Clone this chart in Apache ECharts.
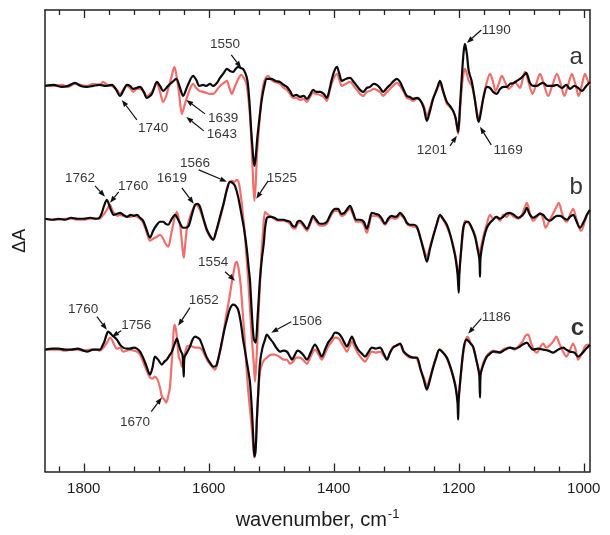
<!DOCTYPE html>
<html><head><meta charset="utf-8">
<script src="https://cdn.jsdelivr.net/npm/echarts@6/dist/echarts.min.js"></script>
<style>html,body{margin:0;padding:0;background:#fff}#c{width:610px;height:535px}</style>
</head><body><div id="c"></div>
<script>
// wavenumber (cm-1), ΔA (arbitrary units, relative to each trace's baseline)
const aBlack = [[1862,0],[1848,1],[1835,-1],[1825,0],[1814,3],[1805,0],[1795,-1],[1785,0],[1775,1],[1765,0],[1755,1],[1748,-4],[1742,-10],[1736,-4],[1731,1],[1726,0],[1721,-3],[1710,-1],[1704,-6],[1699,-12],[1691,-8],[1683,4],[1678,0],[1673,-5],[1665,0],[1658,4],[1652,7],[1646,-2],[1641,-10],[1634,0],[1625,10],[1620,6],[1615,0],[1609,1],[1604,0],[1598,2],[1593,0],[1587,3],[1582,8],[1576,13],[1571,17],[1566,15],[1561,14],[1557,17],[1553,19],[1549,18],[1545,17],[1541,12],[1538,5],[1535,-15],[1532,-45],[1529,-70],[1527,-80],[1525,-72],[1522,-50],[1518,-28],[1515,-13],[1511,0],[1507,7],[1500,7],[1493,5],[1486,4],[1480,1],[1475,-1],[1470,-5],[1465,-10],[1460,-9],[1454,-11],[1448,-10],[1443,-13],[1438,-9],[1433,-4],[1428,-6],[1422,-6],[1416,-8],[1411,-12],[1407,-4],[1403,7],[1399,15],[1395,19],[1391,12],[1387,5],[1381,7],[1374,8],[1368,4],[1363,0],[1358,-4],[1353,-6],[1347,-2],[1342,-1],[1336,2],[1331,1],[1326,-2],[1321,-6],[1315,-2],[1310,1],[1304,5],[1299,7],[1294,4],[1288,-4],[1283,-10],[1278,-11],[1273,-13],[1267,-12],[1262,-14],[1256,-22],[1251,-35],[1246,-25],[1241,-13],[1235,-3],[1230,5],[1225,-5],[1219,-16],[1214,-20],[1209,-25],[1205,-32],[1201,-46],[1198,-20],[1195,10],[1192,35],[1190,42],[1187,32],[1184,15],[1179,4],[1174,-15],[1170,-32],[1168,-36],[1165,-28],[1160,-10],[1155,-1],[1150,-2],[1145,-6],[1139,-8],[1134,-3],[1128,-1],[1123,-1],[1118,2],[1112,3],[1107,5],[1100,8],[1094,12],[1092,13],[1086,3],[1081,0],[1075,0],[1070,2],[1065,3],[1058,0],[1050,0],[1043,1],[1035,-2],[1028,1],[1022,-3],[1015,0],[1009,-2],[1003,-5],[996,0],[990,4]];
const aRed = [[1862,0],[1848,0],[1835,1],[1825,-1],[1814,2],[1805,1],[1795,0],[1785,2],[1775,1],[1769,4],[1762,1],[1755,0],[1748,-3],[1742,-8],[1736,-3],[1731,0],[1726,-2],[1721,-6],[1715,-3],[1710,-3],[1704,-6],[1699,-10],[1691,-6],[1683,2],[1678,-6],[1673,-16],[1668,-10],[1665,-3],[1660,8],[1655,19],[1651,8],[1647,-10],[1643,-28],[1639,-20],[1633,-8],[1625,2],[1620,-2],[1615,-5],[1609,-6],[1604,-7],[1598,-8],[1593,-8],[1587,-4],[1582,0],[1576,3],[1571,5],[1567,-2],[1563,-8],[1559,-2],[1555,4],[1551,9],[1548,11],[1544,8],[1540,3],[1537,-10],[1534,-30],[1531,-65],[1529,-95],[1527,-115],[1525,-100],[1523,-70],[1520,-45],[1517,-20],[1513,0],[1509,8],[1505,10],[1500,6],[1495,4],[1490,3],[1486,2],[1480,-2],[1475,-4],[1470,-8],[1465,-12],[1460,-12],[1454,-14],[1448,-13],[1443,-16],[1438,-11],[1433,-7],[1428,-8],[1422,-9],[1416,-11],[1411,-15],[1407,-6],[1403,3],[1399,9],[1395,12],[1391,6],[1387,0],[1381,2],[1374,4],[1368,0],[1363,-4],[1358,-8],[1353,-10],[1347,-6],[1342,-5],[1336,-3],[1331,-4],[1326,-6],[1321,-10],[1315,-6],[1310,-3],[1304,1],[1299,3],[1294,0],[1288,-6],[1283,-12],[1278,-13],[1273,-15],[1267,-13],[1262,-14],[1256,-20],[1251,-30],[1246,-22],[1241,-12],[1235,-4],[1230,2],[1225,-6],[1219,-18],[1214,-21],[1209,-25],[1205,-33],[1201,-48],[1198,-25],[1195,0],[1192,14],[1190,17],[1187,12],[1184,5],[1179,0],[1174,-14],[1170,-30],[1168,-33],[1165,-25],[1160,-10],[1155,4],[1150,12],[1146,6],[1141,-5],[1136,2],[1131,10],[1126,4],[1120,-3],[1115,0],[1110,4],[1106,1],[1102,-2],[1098,6],[1094,14],[1088,3],[1082,-8],[1076,2],[1070,12],[1064,2],[1057,-10],[1050,1],[1043,12],[1037,2],[1031,-10],[1025,1],[1019,12],[1013,1],[1008,-10],[1003,1],[998,12],[994,6],[990,0]];
const bBlack = [[1862,0],[1850,-1],[1840,0],[1830,-1],[1820,1],[1810,0],[1800,0],[1790,1],[1780,0],[1775,1],[1771,6],[1767,14],[1763,19],[1760,15],[1756,8],[1752,4],[1747,5],[1742,6],[1737,4],[1731,2],[1725,4],[1720,3],[1715,4],[1710,1],[1705,-2],[1700,-10],[1694,-19],[1689,-12],[1683,-6],[1678,-3],[1673,-3],[1669,-5],[1665,-6],[1660,-1],[1654,4],[1648,-2],[1641,-9],[1637,-9],[1632,-7],[1627,4],[1622,14],[1618,15],[1614,12],[1608,-1],[1603,-11],[1598,-17],[1593,-21],[1588,-12],[1582,2],[1576,16],[1571,29],[1566,37],[1562,36],[1558,33],[1553,22],[1547,2],[1543,-12],[1539,-31],[1536,-50],[1534,-62],[1531,-95],[1528,-120],[1525,-124],[1522,-100],[1520,-80],[1518,-60],[1515,-40],[1512,-25],[1510,-10],[1507,1],[1503,2],[1500,2],[1495,1],[1489,-1],[1480,-1],[1475,-2],[1470,-3],[1466,-7],[1462,-8],[1458,-3],[1454,-2],[1448,-6],[1443,-10],[1438,-4],[1433,3],[1428,-1],[1422,-5],[1417,-5],[1411,-3],[1407,2],[1403,7],[1398,10],[1393,10],[1388,5],[1383,6],[1378,10],[1374,13],[1369,6],[1364,-1],[1358,-1],[1352,-3],[1347,-10],[1343,-2],[1339,6],[1334,5],[1328,4],[1323,0],[1318,-5],[1313,0],[1308,3],[1302,2],[1298,3],[1294,6],[1287,1],[1283,-4],[1278,-6],[1272,-6],[1267,-8],[1261,-20],[1256,-32],[1251,-43],[1246,-30],[1241,-18],[1235,-5],[1230,4],[1225,0],[1219,-6],[1214,-15],[1209,-28],[1205,-40],[1202,-55],[1200,-74],[1199,-55],[1196,-30],[1193,-10],[1190,-4],[1185,-3],[1180,-8],[1174,-18],[1170,-30],[1167,-41],[1166,-58],[1165,-38],[1160,-20],[1155,-9],[1150,-4],[1145,-1],[1140,2],[1134,0],[1129,2],[1124,5],[1118,6],[1112,4],[1105,1],[1099,3],[1095,6],[1091,11],[1087,5],[1081,1],[1075,3],[1070,5],[1065,4],[1060,0],[1054,-2],[1048,1],[1043,3],[1038,3],[1033,1],[1027,-1],[1022,2],[1017,4],[1012,-2],[1006,-9],[1000,-3],[995,4],[990,9]];
const bRed = [[1862,0],[1850,-1],[1840,-1],[1830,0],[1820,0],[1810,-1],[1800,-1],[1790,0],[1780,0],[1775,0],[1770,3],[1766,6],[1762,10],[1758,14],[1754,8],[1750,5],[1746,3],[1742,4],[1737,3],[1731,2],[1725,2],[1720,3],[1715,2],[1710,0],[1705,-4],[1700,-12],[1694,-22],[1689,-20],[1683,-18],[1678,-16],[1673,-20],[1669,-25],[1665,-28],[1660,-15],[1655,0],[1651,7],[1648,0],[1645,-10],[1642,-30],[1640,-39],[1638,-28],[1635,-10],[1630,2],[1625,10],[1620,14],[1615,10],[1610,2],[1606,-6],[1603,-12],[1598,-18],[1593,-21],[1588,-13],[1582,0],[1576,15],[1571,30],[1567,37],[1563,38],[1559,37],[1555,39],[1552,36],[1549,25],[1546,8],[1543,-10],[1540,-35],[1537,-60],[1534,-90],[1531,-120],[1528,-145],[1526,-163],[1524,-145],[1522,-120],[1520,-90],[1518,-65],[1516,-40],[1513,-12],[1510,7],[1507,5],[1503,3],[1500,2],[1495,0],[1489,-2],[1480,-2],[1475,-3],[1470,-5],[1466,-9],[1462,-10],[1458,-5],[1454,-4],[1448,-8],[1443,-12],[1438,-6],[1433,1],[1428,-3],[1422,-7],[1417,-7],[1411,-5],[1407,0],[1403,5],[1398,8],[1393,8],[1388,3],[1383,4],[1378,8],[1374,10],[1369,4],[1364,-3],[1358,-3],[1352,-6],[1347,-14],[1343,-5],[1339,3],[1334,3],[1328,2],[1323,-2],[1318,-6],[1313,-2],[1308,1],[1302,0],[1298,1],[1294,4],[1287,0],[1283,-5],[1278,-7],[1272,-8],[1267,-9],[1261,-20],[1256,-30],[1251,-38],[1246,-28],[1241,-17],[1235,-5],[1230,3],[1225,-1],[1219,-8],[1214,-16],[1209,-26],[1205,-38],[1202,-52],[1200,-58],[1198,-45],[1195,-25],[1192,-8],[1190,-2],[1185,-4],[1180,-8],[1174,-16],[1170,-28],[1167,-36],[1165,-30],[1160,-16],[1155,-5],[1150,4],[1145,0],[1140,2],[1134,-2],[1129,4],[1124,2],[1118,5],[1112,2],[1105,0],[1099,4],[1095,10],[1091,16],[1086,5],[1081,-2],[1075,2],[1070,6],[1065,0],[1061,-9],[1055,-2],[1050,4],[1045,10],[1040,16],[1035,6],[1031,-1],[1027,-3],[1022,4],[1017,10],[1012,0],[1008,-8],[1004,-12],[998,-2],[994,5],[990,9]];
const cBlack = [[1862,0],[1850,1],[1840,1],[1830,0],[1820,0],[1810,1],[1800,-1],[1795,-2],[1785,0],[1774,0],[1770,4],[1767,8],[1764,14],[1761,18],[1757,16],[1754,14],[1750,12],[1747,10],[1742,5],[1737,2],[1731,1],[1726,1],[1720,2],[1715,1],[1710,-2],[1705,-8],[1700,-16],[1694,-25],[1690,-18],[1686,-7],[1681,-10],[1675,-15],[1671,-12],[1667,-10],[1663,-6],[1659,-2],[1655,5],[1651,11],[1648,5],[1645,-1],[1642,-5],[1640,-27],[1639,-8],[1635,-3],[1630,3],[1626,10],[1622,13],[1618,12],[1614,10],[1608,0],[1603,-8],[1597,-14],[1593,-17],[1588,-16],[1583,-4],[1579,8],[1575,20],[1571,30],[1566,41],[1561,45],[1557,44],[1553,40],[1549,28],[1545,10],[1541,-5],[1537,-20],[1534,-33],[1531,-60],[1529,-85],[1527,-107],[1525,-100],[1523,-70],[1521,-45],[1518,-13],[1514,2],[1510,10],[1507,15],[1502,11],[1497,7],[1492,2],[1486,-2],[1481,-1],[1475,-2],[1470,-7],[1467,-10],[1462,-5],[1458,-1],[1454,-2],[1448,-6],[1443,-10],[1437,-3],[1430,5],[1425,0],[1419,-7],[1414,0],[1409,7],[1403,12],[1398,17],[1392,16],[1387,12],[1383,7],[1379,3],[1375,8],[1371,13],[1366,6],[1361,0],[1355,-4],[1350,-7],[1345,-3],[1339,2],[1333,1],[1326,2],[1320,-4],[1315,-10],[1310,-3],[1305,2],[1300,4],[1294,6],[1288,-2],[1283,-5],[1278,-7],[1272,-8],[1267,-8],[1261,-20],[1256,-30],[1251,-40],[1246,-30],[1241,-18],[1236,-8],[1231,0],[1225,-3],[1219,-8],[1214,-16],[1209,-27],[1205,-38],[1202,-53],[1201,-70],[1200,-50],[1196,-20],[1192,2],[1188,10],[1185,9],[1181,6],[1177,3],[1172,-10],[1168,-22],[1167,-27],[1166,-48],[1165,-25],[1160,-14],[1155,-7],[1150,-4],[1145,-2],[1140,-2],[1134,-3],[1126,0],[1118,2],[1111,1],[1105,2],[1098,5],[1091,7],[1086,3],[1081,0],[1073,1],[1065,0],[1057,-1],[1049,-3],[1041,0],[1033,2],[1028,0],[1022,-2],[1015,-3],[1009,-7],[1003,-4],[996,1],[990,5]];
const cRed = [[1862,0],[1850,0],[1840,0],[1830,-1],[1820,0],[1810,0],[1800,-1],[1790,0],[1780,0],[1774,-1],[1770,1],[1766,4],[1762,8],[1758,12],[1755,10],[1752,6],[1747,1],[1742,2],[1737,-2],[1731,-1],[1726,0],[1720,-1],[1715,-2],[1710,-5],[1705,-12],[1700,-20],[1694,-28],[1690,-29],[1686,-27],[1682,-30],[1678,-38],[1675,-47],[1671,-50],[1668,-53],[1665,-47],[1662,-37],[1659,-10],[1657,10],[1655,25],[1652,18],[1648,-7],[1645,-12],[1643,-17],[1640,-10],[1635,3],[1630,4],[1626,3],[1622,2],[1616,2],[1611,0],[1606,-6],[1601,-12],[1596,-16],[1590,-20],[1585,-10],[1580,3],[1576,18],[1572,35],[1568,48],[1565,60],[1561,75],[1557,87],[1555,88],[1552,80],[1549,65],[1546,40],[1543,15],[1540,-15],[1537,-40],[1534,-60],[1531,-80],[1529,-95],[1527,-108],[1525,-100],[1523,-70],[1521,-45],[1518,-22],[1515,-15],[1512,-11],[1507,-8],[1500,-5],[1495,-5],[1490,-6],[1485,-8],[1480,-10],[1475,-10],[1470,-14],[1465,-12],[1460,-8],[1454,-8],[1448,-11],[1443,-14],[1437,-7],[1430,0],[1425,-4],[1419,-10],[1414,-4],[1409,3],[1403,8],[1398,12],[1392,11],[1387,6],[1383,2],[1379,-2],[1375,3],[1371,8],[1366,2],[1361,-4],[1355,-9],[1350,-12],[1345,-7],[1339,-2],[1333,-3],[1326,-2],[1320,-6],[1315,-10],[1310,-3],[1305,3],[1300,4],[1294,5],[1288,-3],[1283,-6],[1278,-8],[1272,-8],[1267,-9],[1261,-20],[1256,-28],[1251,-36],[1246,-28],[1241,-17],[1236,-7],[1231,0],[1225,-3],[1219,-9],[1214,-17],[1209,-26],[1205,-36],[1202,-48],[1200,-45],[1196,-22],[1192,0],[1188,11],[1186,13],[1182,8],[1177,2],[1172,-10],[1168,-20],[1166,-25],[1163,-18],[1160,-12],[1155,-6],[1150,-3],[1145,-1],[1140,-3],[1134,-2],[1126,1],[1118,2],[1111,0],[1105,3],[1098,8],[1093,14],[1089,15],[1085,8],[1080,0],[1075,-3],[1070,2],[1065,6],[1060,2],[1055,4],[1049,8],[1044,13],[1039,6],[1033,-2],[1028,-7],[1022,0],[1017,6],[1013,0],[1009,-10],[1003,-4],[998,3],[994,5],[990,4]];

// vertical offsets of the three trace pairs
const offsetA = 386, offsetB = 253, offsetC = 122;

// axis ticks
const majorTicks = [1800, 1600, 1400, 1200, 1000];
const minorTicks = [1840,1760,1720,1680,1640,1560,1520,1480,1440,1360,1320,1280,1240,1160,1120,1080,1040];

// peak annotations: text, label [wn, y], arrow start [wn, y], arrow tip [wn, y]
const annotations = [
  ['1550', 1574,428, 1564,417, 1548,404],
  ['1740', 1689,344, 1715,352, 1739,372],
  ['1639', 1577,354, 1606,358, 1636,372],
  ['1643', 1579,338, 1608,341, 1636,355],
  ['1190', 1140,442, 1164,442, 1187,429],
  ['1201', 1243,322, 1214,326, 1203,336],
  ['1169', 1121,322, 1148,327, 1166,345],
  ['1762', 1806,294, 1782,286, 1766,275],
  ['1760', 1721,286, 1744,280, 1758,269],
  ['1619', 1659,294, 1643,284, 1624,268],
  ['1566', 1622,309, 1616,302, 1571,290],
  ['1525', 1483,294, 1505,291, 1524,273],
  ['1554', 1593,209, 1574,200, 1558,191],
  ['1652', 1608,171, 1630,164, 1649,146],
  ['1760', 1801,162, 1779,155, 1763,142],
  ['1756', 1716,146, 1740,141, 1755,135],
  ['1670', 1718,49, 1692,60, 1675,74],
  ['1506', 1443,150, 1468,150, 1500,139],
  ['1186', 1140,154, 1164,153, 1185,138]
];
const traceLetters = [['a',1012,415,'normal'],['b',1012,284,'normal'],['c',1010,143,'bold']];

const FONT = 'Liberation Sans, Arial, Helvetica, sans-serif';
const RED = '#ef6f6c', BLACK = '#0a0a0a';
const shift = (arr, off) => arr.map(p => [p[0], p[1] + off]);

function xAx(pos, ticks, len, showLine, showLabel) {
  return {
    type: 'value', min: 990, max: 1862, inverse: true, position: pos,
    axisLine: { show: showLine, lineStyle: { color: '#222', width: 1.5 } },
    axisTick: { show: true, inside: true, length: len, customValues: ticks, lineStyle: { color: '#222', width: 1.3 } },
    axisLabel: showLabel ? { show: true, customValues: majorTicks, formatter: v => String(v), fontSize: 15, color: '#1a1a1a', fontFamily: FONT, margin: 10 } : { show: false },
    splitLine: { show: false },
    name: showLabel ? 'wavenumber, cm{sup|-1}' : '',
    nameLocation: 'middle', nameGap: 36,
    nameTextStyle: { fontSize: 20, color: '#1a1a1a', fontFamily: FONT,
      rich: { sup: { fontSize: 13, verticalAlign: 'top', padding: [0, 0, 12, 1], fontFamily: FONT, color: '#1a1a1a' } } }
  };
}
function yAx(pos, name) {
  return {
    type: 'value', min: 0, max: 462, position: pos,
    axisLine: { show: true, lineStyle: { color: '#222', width: 1.5 } },
    axisTick: { show: false }, axisLabel: { show: false }, splitLine: { show: false },
    name: name, nameLocation: 'middle', nameGap: 16, nameRotate: 90,
    nameTextStyle: { fontSize: 18, color: '#1a1a1a', fontFamily: FONT }
  };
}
function trace(data, off, color, w) {
  return { type: 'line', data: shift(data, off), showSymbol: false, smooth: 0.3, silent: true,
    lineStyle: { color: color, width: w }, itemStyle: { color: color }, z: color === RED ? 2 : 3 };
}

// arrow: line from start to tip with a filled head, positioned through the axes
function renderArrow(params, api) {
  const p0 = api.coord([api.value(0), api.value(1)]);
  const p1 = api.coord([api.value(2), api.value(3)]);
  const dx = p1[0] - p0[0], dy = p1[1] - p0[1];
  const L = Math.sqrt(dx * dx + dy * dy) || 1;
  const ux = dx / L, uy = dy / L;
  const hl = 7, hw = 2.6;
  const bx = p1[0] - ux * hl, by = p1[1] - uy * hl;
  return { type: 'group', children: [
    { type: 'line', shape: { x1: p0[0], y1: p0[1], x2: bx, y2: by }, style: { stroke: '#111', lineWidth: 1.2 } },
    { type: 'polygon', shape: { points: [[p1[0], p1[1]], [bx - uy * hw, by + ux * hw], [bx + uy * hw, by - ux * hw]] }, style: { fill: '#111' } }
  ] };
}

const chart = echarts.init(document.getElementById('c'), null, { renderer: 'canvas' });
chart.setOption({
  animation: false,
  backgroundColor: '#fff',
  grid: { left: 45, right: 20, top: 10, bottom: 63 },
  xAxis: [ xAx('bottom', majorTicks, 8, true, true), xAx('bottom', minorTicks, 5, false, false),
           xAx('top', majorTicks, 8, true, false), xAx('top', minorTicks, 5, false, false) ],
  yAxis: [ yAx('left', 'ΔA'), yAx('right', '') ],
  series: [
    trace(aRed, offsetA, RED, 2.2), trace(aBlack, offsetA, BLACK, 2.2),
    trace(bRed, offsetB, RED, 2.2), trace(bBlack, offsetB, BLACK, 2.2),
    trace(cRed, offsetC, RED, 2.2), trace(cBlack, offsetC, BLACK, 2.2),
    { type: 'custom', silent: true, z: 5, renderItem: renderArrow,
      data: annotations.map(a => [a[3], a[4], a[5], a[6]]) },
    { type: 'scatter', silent: true, symbolSize: 0, z: 6,
      data: annotations.map(a => [a[1], a[2], a[0]]),
      label: { show: true, position: 'inside', formatter: p => p.value[2], fontSize: 13.5, color: '#000', fontFamily: FONT } },
    { type: 'scatter', silent: true, symbolSize: 0, z: 6,
      data: traceLetters.map(t => ({ value: [t[1], t[2], t[0]], label: { fontWeight: t[3], color: '#000' } })),
      label: { show: true, position: 'inside', formatter: p => p.value[2], fontSize: 24, color: '#000', fontFamily: FONT } }
  ]
});
</script></body></html>
